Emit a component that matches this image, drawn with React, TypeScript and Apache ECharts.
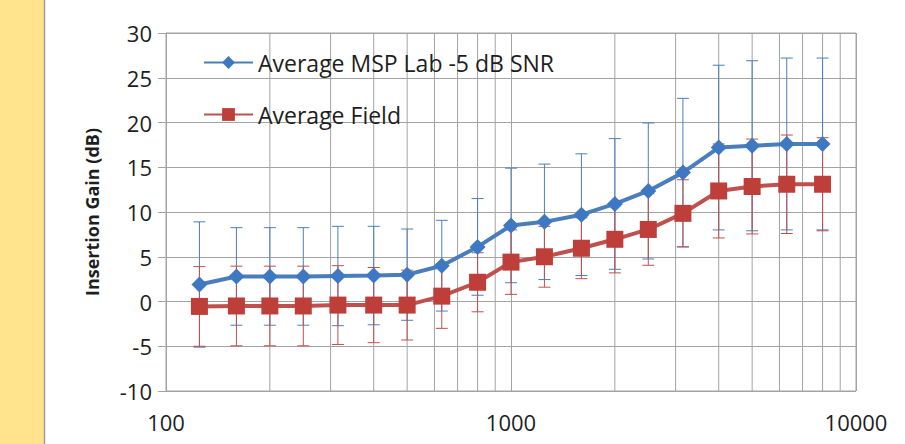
import React, { useEffect, useRef } from "react";
import * as echarts from "echarts";

const freqs = [125, 160, 200, 250, 315, 400, 500, 630, 800, 1000, 1250, 1600, 2000, 2500, 3150, 4000, 5000, 6300, 8000];
const labMean = [1.9, 2.8, 2.8, 2.8, 2.85, 2.9, 3.0, 4.0, 6.1, 8.5, 8.9, 9.7, 10.9, 12.35, 14.4, 17.2, 17.4, 17.6, 17.6];
const labErr = [7.0, 5.45, 5.45, 5.45, 5.55, 5.5, 5.1, 5.07, 5.4, 6.4, 6.45, 6.8, 7.3, 7.6, 8.3, 9.2, 9.5, 9.6, 9.6];
const fieldMean = [-0.55, -0.5, -0.5, -0.5, -0.4, -0.4, -0.4, 0.6, 2.15, 4.4, 5.0, 5.95, 6.95, 8.05, 9.85, 12.35, 12.85, 13.1, 13.1];
const fieldErr = [4.45, 4.45, 4.45, 4.45, 4.4, 4.2, 3.9, 3.6, 3.3, 3.6, 3.4, 3.4, 3.75, 4.0, 3.75, 5.25, 5.3, 5.5, 5.2];
const minorGridFreqs = [200, 300, 400, 500, 600, 700, 800, 900, 2000, 3000, 4000, 5000, 6000, 7000, 8000, 9000];
const seriesNames = ["Average MSP Lab -5 dB SNR", "Average Field"];
const yAxisName = "Insertion Gain (dB)";
const xMin = 100;
const xMax = 10000;
const yMin = -10;
const yMax = 30;
const yStep = 5;

const BLUE = "#4A7EBB";
const BLUE_MARK = "#3F78C2";
const RED = "#C0504D";
const RED_MARK = "#BE3F3A";
const GRID = "#A3A3A3";
const TEXT = "#1E1E1E";
const FONT = "'Open Sans', sans-serif";

export default function App() {
  const ref = useRef<HTMLDivElement>(null);

  useEffect(() => {
    const chart = echarts.init(ref.current!, null, { renderer: "svg" });

    const errSeries = (name: string, mean: number[], err: number[], color: string) => ({
      type: "custom",
      name,
      z: 1,
      silent: true,
      data: freqs.map((f, i) => [f, mean[i] - err[i], mean[i] + err[i]]),
      encode: { x: 0, y: [1, 2] },
      renderItem: (_p: any, api: any) => {
        const x = api.value(0);
        const lo = api.coord([x, api.value(1)]);
        const hi = api.coord([x, api.value(2)]);
        const half = 6;
        const style = { stroke: color, lineWidth: 1 };
        return {
          type: "group",
          children: [
            { type: "line", shape: { x1: lo[0], y1: lo[1], x2: hi[0], y2: hi[1] }, style },
            { type: "line", shape: { x1: lo[0] - half, y1: lo[1], x2: lo[0] + half, y2: lo[1] }, style },
            { type: "line", shape: { x1: hi[0] - half, y1: hi[1], x2: hi[0] + half, y2: hi[1] }, style },
          ],
        };
      },
    });

    chart.setOption({
      animation: false,
      backgroundColor: "#ffffff",
      graphic: [
        { type: "rect", shape: { x: 0, y: 0, width: 44, height: 444 }, style: { fill: "#FFE48D" }, z: 0 },
        { type: "line", shape: { x1: 44.5, y1: 0, x2: 44.5, y2: 444 }, style: { stroke: "#9A9A9A", lineWidth: 1.5 }, z: 0 },
      ],
      grid: { left: 166, right: 49, top: 33, bottom: 53, show: true, borderColor: GRID, borderWidth: 1, backgroundColor: "#fff" },
      legend: {
        data: seriesNames,
        orient: "vertical",
        left: 198,
        top: 46,
        itemWidth: 49,
        itemHeight: 16,
        itemGap: 29,
        textStyle: { fontFamily: FONT, fontSize: 23, color: TEXT },
        selectedMode: false,
      },
      xAxis: {
        type: "log",
        logBase: 10,
        min: xMin,
        max: xMax,
        axisLine: { show: true, lineStyle: { color: GRID, width: 1 } },
        axisTick: { show: true, length: 6, lineStyle: { color: GRID } },
        splitLine: { show: true, lineStyle: { color: GRID, width: 1 } },
        axisLabel: {
          fontFamily: FONT,
          fontSize: 22,
          color: TEXT,
          margin: 20,
          formatter: (v: number) => String(Math.round(v)),
        },
      },
      yAxis: {
        type: "value",
        min: yMin,
        max: yMax,
        interval: yStep,
        name: yAxisName,
        nameLocation: "middle",
        nameGap: 65,
        nameTextStyle: { fontFamily: FONT, fontSize: 18, fontWeight: "bold", color: TEXT },
        axisLine: { show: true, lineStyle: { color: GRID, width: 1 } },
        axisTick: { show: true, length: 8, lineStyle: { color: GRID } },
        splitLine: { show: true, lineStyle: { color: GRID, width: 1 } },
        axisLabel: { fontFamily: FONT, fontSize: 22, color: TEXT, margin: 14 },
      },
      series: [
        {
          type: "custom",
          name: "minor grid",
          z: 0,
          silent: true,
          data: minorGridFreqs.map((f) => [f, yMin, yMax]),
          encode: { x: 0, y: [1, 2] },
          renderItem: (_p: any, api: any) => {
            const a = api.coord([api.value(0), api.value(1)]);
            const b = api.coord([api.value(0), api.value(2)]);
            return {
              type: "line",
              shape: { x1: a[0], y1: a[1], x2: b[0], y2: b[1] },
              style: { stroke: GRID, lineWidth: 1 },
            };
          },
        },
        errSeries("lab error", labMean, labErr, BLUE),
        errSeries("field error", fieldMean, fieldErr, RED),
        {
          type: "line",
          name: seriesNames[0],
          z: 3,
          data: freqs.map((f, i) => [f, labMean[i]]),
          symbol: "diamond",
          symbolSize: 16,
          showSymbol: true,
          lineStyle: { color: BLUE, width: 4 },
          itemStyle: { color: BLUE_MARK, borderWidth: 0 },
        },
        {
          type: "line",
          name: seriesNames[1],
          z: 4,
          data: freqs.map((f, i) => [f, fieldMean[i]]),
          symbol: "rect",
          symbolSize: 17,
          showSymbol: true,
          lineStyle: { color: RED, width: 4 },
          itemStyle: { color: RED_MARK, borderWidth: 0 },
        },
      ],
    });

    return () => chart.dispose();
  }, []);

  return (
    <div style={{ position: "fixed", left: 0, top: 0, width: 905, height: 444, background: "#fff" }}>
      <div ref={ref} style={{ width: 905, height: 444 }} />
    </div>
  );
}
